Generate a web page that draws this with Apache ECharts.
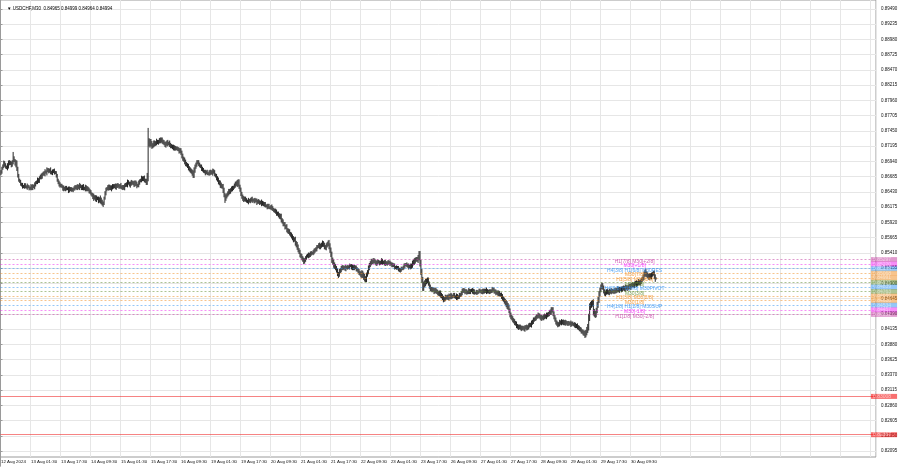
<!DOCTYPE html>
<html><head><meta charset="utf-8">
<script src="https://cdn.jsdelivr.net/npm/echarts@6/dist/echarts.min.js"></script>
<style>html,body{margin:0;padding:0;background:#fff}#c{width:900px;height:468px}</style>
</head><body><div id="c"></div>
<script>
// USDCHF M30 closes, in points (price x 100000), one array per trading day
const aug12 = [86764,86820,86870,86914,86880,86850,86830,86870,86905,86931,86900,86881,86930,86995,86960,86890,86914,86820,86700,86630,86600,86563,86540,86525,86513,86545,86520,86505,86530];
const aug13 = [86510,86485,86496,86520,86490,86530,86513,86550,86579,86600,86630,86610,86660,86697,86680,86720,86747,86730,86770,86755,86790,86797,86770,86800,86764,86740,86775,86780,86760,86747,86700,86630,86579,86560,86530,86545,86513,86480,86496,86470,86500,86485,86479,86450,86490,86462,86480,86455];
const aug14 = [86470,86505,86496,86520,86490,86530,86500,86540,86513,86490,86520,86495,86479,86510,86470,86496,86460,86445,86429,86400,86370,86350,86329,86345,86300,86330,86312,86280,86310,86295,86260,86240,86230,86330,86412,86460,86490,86513,86490,86520,86479,86500,86530,86513,86540,86505,86525,86545];
const aug15 = [86530,86510,86540,86520,86490,86515,86496,86530,86560,86545,86596,86580,86540,86563,86600,86570,86579,86550,86590,86560,86530,86546,86580,86610,86630,86660,86640,86663,86630,86600,86596,86697,87299,87220,87265,87240,87190,87215,87250,87230,87249,87280,87249,87270,87300,87282,87310,87265];
const aug16 = [87265,87240,87210,87232,87260,87230,87249,87220,87190,87200,87165,87180,87150,87170,87148,87160,87130,87110,87131,87080,87030,86990,86964,86930,86900,86881,86860,86830,86800,86790,86764,86740,86713,86790,86847,86890,86920,86931,86890,86870,86847,86820,86800,86780,86760,86747,86770,86740];
const aug19 = [86730,86760,86747,86770,86740,86780,86764,86720,86690,86663,86630,86596,86570,86546,86530,86513,86460,86380,86320,86350,86379,86410,86440,86430,86462,86490,86480,86513,86540,86560,86579,86560,86600,86520,86462,86400,86345,86320,86300,86320,86295,86280,86262,86290,86270,86295,86310,86285];
const aug20 = [86295,86270,86300,86278,86250,86280,86260,86240,86262,86230,86250,86211,86230,86200,86190,86178,86200,86170,86161,86180,86161,86140,86110,86120,86094,86070,86060,86044,86010,86025,85960,85930,85894,85885,85840,85850,85793,85765,85775,85730,85709,85690,85650,85626,85640,85570,85542,85510];
const aug21 = [85459,85420,85375,85350,85325,85290,85260,85290,85325,85350,85375,85360,85380,85392,85410,85400,85425,85440,85460,85475,85500,85520,85542,85510,85525,85550,85576,85540,85510,85492,85530,85560,85576,85520,85459,85380,85291,85250,85210,85180,85158,85110,85060,85050,85100,85124,85150,85174];
const aug22 = [85150,85170,85141,85170,85158,85180,85160,85200,85191,85160,85174,85150,85180,85158,85140,85124,85100,85080,85058,85040,85070,85030,85007,84980,84960,85040,85091,85158,85200,85241,85270,85250,85291,85270,85258,85230,85241,85270,85250,85230,85258,85280,85240,85258,85230,85250,85224,85240];
const aug23 = [85260,85230,85241,85220,85200,85215,85191,85170,85158,85170,85150,85141,85110,85124,85150,85140,85174,85190,85208,85220,85200,85191,85170,85190,85174,85200,85240,85258,85270,85291,85310,85290,85325,85380,85241,85091,84957,84823,84880,84900,84923,84940,84957,84900,84840,84810,84790,84800];
const aug26 = [84790,84760,84790,84773,84750,84739,84720,84740,84700,84689,84650,84622,84640,84670,84656,84680,84650,84690,84672,84700,84670,84689,84710,84680,84660,84690,84656,84680,84700,84706,84740,84770,84790,84770,84756,84770,84739,84760,84780,84750,84773,84790,84756,84770,84740,84739,84760,84739];
const aug27 = [84760,84780,84773,84750,84770,84756,84780,84760,84790,84760,84773,84750,84770,84756,84780,84800,84790,84770,84756,84740,84750,84723,84740,84710,84706,84680,84650,84622,84600,84572,84550,84520,84505,84440,84371,84340,84310,84288,84260,84240,84221,84190,84170,84160,84180,84153,84140,84160];
const aug28 = [84153,84130,84160,84170,84150,84170,84190,84210,84200,84237,84260,84288,84300,84320,84338,84350,84371,84350,84338,84310,84330,84321,84340,84355,84340,84370,84371,84390,84410,84422,84450,84460,84390,84338,84288,84250,84220,84204,84220,84250,84237,84260,84240,84254,84230,84250,84237,84220];
const aug29 = [84240,84220,84237,84210,84230,84221,84200,84210,84180,84190,84170,84150,84140,84120,84100,84086,84070,84060,84036,84080,84120,84170,84330,84505,84540,84560,84572,84422,84390,84371,84450,84539,84622,84720,84790,84840,84873,84823,84770,84723,84740,84770,84756,84740,84770,84756,84780,84760];
const aug30 = [84773,84760,84790,84770,84790,84810,84780,84800,84806,84790,84820,84823,84800,84840,84823,84810,84840,84860,84830,84856,84880,84873,84860,84890,84910,84880,84906,84930,84900,84923,84950,84980,85007,85050,85091,85060,85041,85020,85000,85030,85007,85040,85058,85074,85010,84965,84994];
const firstOpen = 86740;
// estimated wick length per bar, in pips beyond the body (one digit per bar, one string per day)
const wick12 = '33243324532434325433232423324';
const wick13 = '232433243243324323425332423342332432234233243232';
const wick14 = '324233242334243324332453342436443234234324332343';
const wick15 = '332423342343243234334243243342559355434434233433';
const wick16 = '433434243324332324334434433434345543433324332423';
const wick19 = '234324332434354354343344334234354434344333242334';
const wick20 = '233242332432332433234323343434434343434334343445';
const wick21 = '434343433324343234334234434343434554545443434343';
const wick22 = '323423232343324334345455443443433343432324323423';
const wick23 = '324233242324233224323342434454335465555554443434';
const wick26 = '343434344434343334343233243243343343324332343233';
const wick27 = '233234332432332434343343344344555444343434343343';
const wick28 = '334343433434334343434344344344544434343434343433';
const wick29 = '332433243343434344545566555655455544434343434343';
const wick30 = '34343434343434343434343434343443454544444433443';
// notable wicks: [bar index, price points]
const wickHigh = [[13,87098],[157,87500],[253,86630],[446,85440],[588,84488],[641,84900],[687,85130],[699,84999]];
const wickLow = [[109,86178],[239,86245],[323,85241],[360,84990],[389,84923],[450,84790],[623,84010],[699,84964]];

// x-axis tick labels (every 32 bars)
const tickLabels = ['12 Aug 2024','13 Aug 01:30','13 Aug 17:30','14 Aug 09:30','15 Aug 01:30','15 Aug 17:30','16 Aug 09:30','19 Aug 01:30','19 Aug 17:30','20 Aug 09:30','21 Aug 01:30','21 Aug 17:30','22 Aug 09:30','23 Aug 01:30','23 Aug 17:30','26 Aug 09:30','27 Aug 01:30','27 Aug 17:30','28 Aug 09:30','29 Aug 01:30','29 Aug 17:30','30 Aug 09:30'];

// Murrey math levels
const levelPrices = [0.85297,0.85220,0.85144,0.85068,0.84991,0.84915,0.84839,0.84763,0.84686,0.84610,0.84534,0.84457,0.84381];
const levelLabels = ['H1[7/8] M30[+2/8]','M30[+1/8]','H4[3/8] H1[6/8] M30RES','M30[7/8]','H1[5/8] M30[6/8]','M30[5/8]','H4[2/8] H1[4/8] M30PIVOT','M30[3/8]','H1[3/8] M30[2/8]','M30[1/8]','H4[1/8] H1[2/8] M30SUP','M30[-1/8]','H1[1/8] M30[-2/8]'];
const levelColors = ['#C2369E','#F020F0','#2C8FF0','#F08A1A','#F08A1A','#5E8A2A','#2C8FF0','#5E8A2A','#F08A1A','#F08A1A','#2C8FF0','#F020F0','#C2369E'];
const redLevels = [0.83008, 0.82367];
const labelBar = 676;
const titleText = '\u25BC USDCHF,M30  0.84965 0.84999 0.84964 0.84994';

// ---- build ----
const closes = [].concat(aug12,aug13,aug14,aug15,aug16,aug19,aug20,aug21,aug22,aug23,aug26,aug27,aug28,aug29,aug30);
const wicks = (wick12+wick13+wick14+wick15+wick16+wick19+wick20+wick21+wick22+wick23+wick26+wick27+wick28+wick29+wick30).split('').map(Number);
const ohlc = closes.map((c,i)=>{
  const o = i ? closes[i-1] : firstOpen;
  const w = (wicks[i]||0)*10;
  return [o,c,Math.min(o,c)-w,Math.max(o,c)+w];
});
wickHigh.forEach(([i,v])=>{ohlc[i][3]=Math.max(ohlc[i][3],v);});
wickLow.forEach(([i,v])=>{ohlc[i][2]=Math.min(ohlc[i][2],v);});
ohlc[699][3]=84999; ohlc[699][2]=84964;
const candleData = ohlc.map(r=>r.map(v=>v/1e5));

const NCAT = 934;
const MON = ['Jan','Feb','Mar','Apr','May','Jun','Jul','Aug','Sep','Oct','Nov','Dec'];
const pad = n => (n<10?'0':'')+n;
const cats = [];
let t = Date.UTC(2024,7,12,9,30);
for (let i=0;i<NCAT;i++){
  const d = new Date(t);
  cats.push(d.getUTCDate()+' '+MON[d.getUTCMonth()]+' '+pad(d.getUTCHours())+':'+pad(d.getUTCMinutes()));
  t += 1800000;
  let wd = new Date(t).getUTCDay();
  while (wd===0||wd===6){ t += 1800000; wd = new Date(t).getUTCDay(); }
}

const tagLabel = {show:true, position:'end', distance:-5, color:'#fff', fontSize:5, lineHeight:5, padding:[0,6,0,2], formatter:p=>Number(p.value).toFixed(5)};
const mlData = levelPrices.map((p,k)=>({yAxis:p, lineStyle:{color:levelColors[k], type:[2,2], width:1, opacity:0.5}, label:{backgroundColor:levelColors[k]}}));
redLevels.forEach(p=>mlData.push({yAxis:p, lineStyle:{color:'#f03030', type:'solid', width:1, opacity:0.6}, label:{backgroundColor:'#f41010'}}));

const FONT = 'Liberation Sans, Arial, sans-serif';
const chart = echarts.init(document.getElementById('c'), null, {renderer:'canvas'});
chart.setOption({
  animation:false,
  backgroundColor:'#ffffff',
  textStyle:{fontFamily:FONT},
  title:{text:titleText, left:2, top:1, textStyle:{fontSize:4.5, fontWeight:'normal', color:'#000', fontFamily:FONT}},
  grid:[
    {left:0.5, right:24, top:0, bottom:11, show:true, borderColor:'#9a9a9a', borderWidth:1, backgroundColor:'transparent', outerBoundsMode:'none', containLabel:false},
    {left:0.5, right:24, top:-6.24, bottom:1.76, outerBoundsMode:'none', containLabel:false}
  ],
  xAxis:[
    {type:'category', gridIndex:0, data:cats, boundaryGap:true,
     axisLine:{show:false}, axisTick:{show:false},
     axisLabel:{interval:(i)=> i%32===0 && i/32<tickLabels.length, formatter:(v,i)=>tickLabels[i/32]||'', fontSize:4.4, color:'#111', align:'left', margin:3},
     splitLine:{show:true, interval:(i)=> i%32===0, lineStyle:{color:'#e6e6e6', width:1}}},
    {type:'value', gridIndex:1, show:false, min:0, max:1}
  ],
  yAxis:[
    {type:'value', gridIndex:0, position:'right', min:0.819940, max:0.896406, show:false, scale:true},
    {type:'value', gridIndex:1, position:'right', min:0.81840, max:0.89745, interval:0.00255,
     axisLine:{show:true, lineStyle:{color:'#9a9a9a'}},
     axisTick:{show:true, length:2, lineStyle:{color:'#9a9a9a'}},
     axisLabel:{fontSize:4.5, color:'#111', margin:5, showMinLabel:false, showMaxLabel:false, formatter:v=>v.toFixed(5)},
     splitLine:{show:true, showMinLine:false, showMaxLine:false, lineStyle:{color:'#e6e6e6', width:1}}}
  ],
  series:[
    {type:'candlestick', name:'USDCHF', xAxisIndex:0, yAxisIndex:0, data:candleData,
     large:true, largeThreshold:100, clip:true,
     itemStyle:{color:'#262626', color0:'#262626', borderColor:'#262626', borderColor0:'#262626', borderWidth:1}},
    {type:'scatter', name:'levels', xAxisIndex:0, yAxisIndex:0, symbol:'circle', symbolSize:1, silent:true, z:5,
     itemStyle:{color:'rgba(0,0,0,0)'},
     data:levelPrices.map((p,k)=>({value:[labelBar,p], label:{color:levelColors[k]}})),
     label:{show:true, position:'inside', offset:[0,1.8], fontSize:5, textBorderWidth:0, formatter:p=>levelLabels[p.dataIndex]},
     markLine:{symbol:['none','none'], silent:true, animation:false, precision:5, label:tagLabel, data:mlData}}
  ]
});
</script>
</body></html>
